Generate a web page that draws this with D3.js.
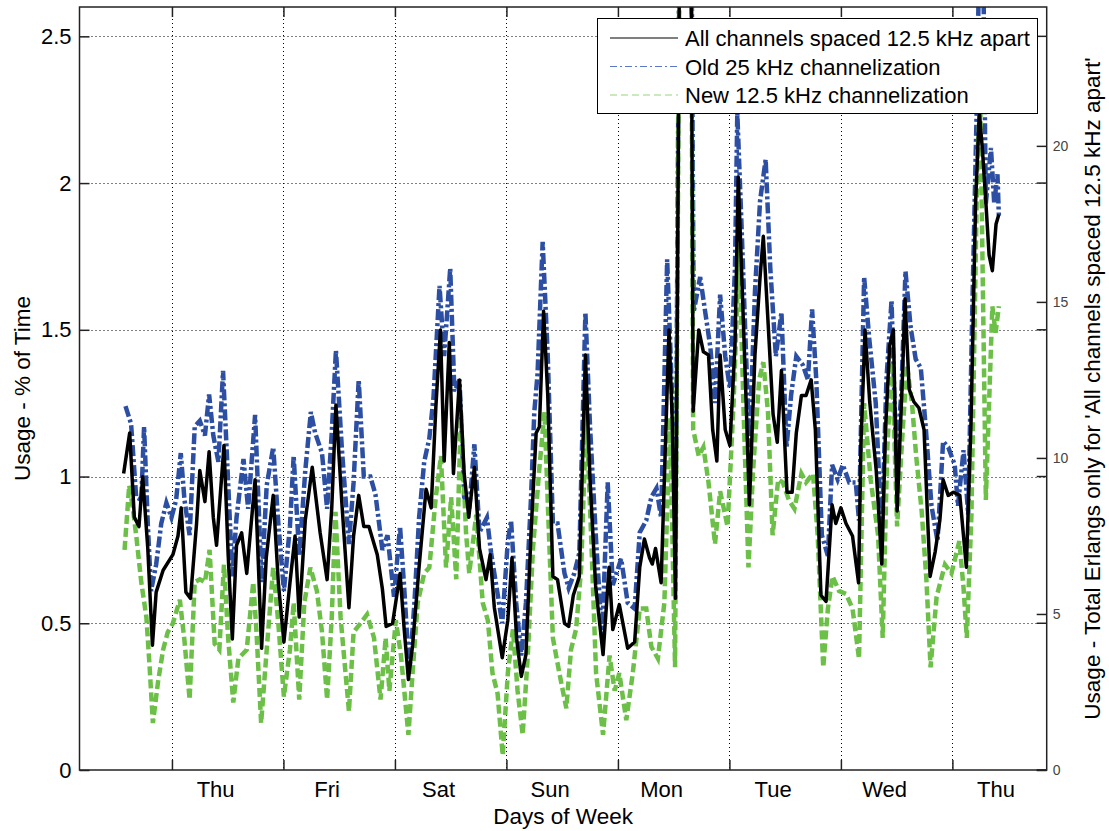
<!DOCTYPE html>
<html>
<head>
<meta charset="utf-8">
<script src="https://cdn.jsdelivr.net/npm/d3@7"></script>
<style>
  body { margin: 0; background: #fff; }
  svg { font-family: "Liberation Sans", Arial, sans-serif; }
</style>
</head>
<body>
<svg id="chart" width="1109" height="831"></svg>
<script>
// hours since Wed 00:00
let dayNames = ["Thu", "Fri", "Sat", "Sun", "Mon", "Tue", "Wed", "Thu"]
let dayTicks = [24, 48, 72, 96, 120, 144, 168, 192]
let leftTicks = [0, 0.5, 1, 1.5, 2, 2.5]
let rightTicks = [0, 5, 10, 15, 20]

// 'All channels spaced 12.5 kHz apart' - total Erlangs (right axis)
let allChannels = [
  [13.6, 9.5], [14.9, 10.8], [15.9, 8.1], [16.9, 7.8], [17.7, 9.4], [18.8, 7.1], [19.8, 4.0], [20.6, 5.7],
  [22.1, 6.4], [24.2, 6.9], [25.3, 7.5], [26.0, 8.4], [27.0, 5.7], [28.0, 5.5], [29.3, 7.9], [30.0, 9.6],
  [31.1, 8.6], [32.0, 10.2], [32.9, 8.1], [33.6, 7.2], [35.2, 10.4], [36.1, 6.9], [37.0, 4.2], [37.9, 7.2],
  [39.0, 7.6], [40.1, 6.3], [41.9, 9.3], [43.3, 3.9], [44.3, 6.8], [45.8, 8.8], [46.9, 6.0], [48.1, 4.1],
  [49.4, 6.0], [50.5, 7.5], [51.4, 4.9], [52.7, 8.0], [54.2, 9.7], [55.9, 7.6], [57.4, 6.1], [58.4, 8.4],
  [59.3, 11.7], [60.6, 8.5], [62.1, 5.2], [63.1, 7.5], [64.2, 8.8], [65.3, 7.8], [66.4, 7.8], [68.2, 6.9],
  [69.3, 5.8], [70.1, 4.6], [71.5, 4.7], [73.1, 6.3], [74.0, 4.5], [74.9, 2.9], [75.8, 4.0], [77.2, 6.5],
  [78.7, 9.0], [79.8, 8.4], [80.8, 11.6], [81.8, 14.1], [82.6, 9.9], [83.7, 13.7], [84.6, 9.5], [85.9, 12.5],
  [86.9, 9.5], [87.9, 8.1], [89.1, 9.7], [90.2, 7.1], [91.6, 6.1], [92.5, 6.9], [93.4, 5.2], [95.1, 3.6],
  [96.3, 4.8], [97.2, 6.8], [98.2, 4.2], [99.2, 3.0], [100.2, 3.7], [101.3, 7.6], [102.4, 10.8], [103.1, 11.0],
  [104.0, 14.7], [104.9, 12.0], [106.0, 6.2], [107.0, 6.1], [108.5, 4.7], [109.4, 4.6], [110.4, 5.6], [111.7, 6.2],
  [113.0, 13.3], [114.0, 9.3], [115.2, 5.9], [116.8, 3.7], [118.1, 6.5], [118.9, 4.5], [120.3, 5.3], [122.1, 3.9],
  [123.6, 4.1], [124.7, 6.5], [125.7, 7.4], [126.8, 6.8], [127.4, 6.6], [128.1, 7.1], [129.3, 6.0], [131.0, 14.1],
  [131.7, 11.2], [132.4, 5.5], [133.5, 32], [134.5, 34], [135.6, 32], [136.2, 11.5], [137.4, 14.1], [138.4, 13.4],
  [139.5, 13.3], [140.4, 10.9], [141.3, 9.9], [142.0, 13.3], [143.1, 10.9], [144.1, 10.4], [145.2, 13.6], [145.9, 19.0],
  [146.6, 16.1], [147.6, 11.8], [148.3, 8.5], [149.5, 13.3], [150.6, 15.8], [151.3, 17.1], [152.3, 14.4], [153.4, 11.4],
  [154.3, 10.5], [155.2, 12.8], [156.4, 8.9], [157.5, 8.9], [158.4, 10.8], [159.5, 12.0], [160.5, 12.0], [161.6, 12.5],
  [162.5, 10.9], [163.7, 5.6], [164.8, 5.4], [166.1, 8.5], [166.9, 7.9], [168.0, 8.4], [169.1, 7.9], [170.5, 7.5],
  [171.8, 6.0], [172.3, 10.4], [173.2, 14.1], [174.2, 11.8], [175.6, 9.6], [176.8, 6.6], [177.6, 10.9], [178.5, 13.6],
  [179.3, 14.1], [180.1, 8.3], [181.2, 12.4], [181.8, 15.1], [182.7, 12.2], [183.7, 11.8], [184.8, 11.6], [185.9, 10.9],
  [186.6, 8.3], [187.2, 6.2], [188.3, 7.0], [189.3, 8.0], [190.0, 9.3], [191.1, 8.8], [192.2, 8.9], [193.6, 8.8],
  [195.0, 6.5], [196.0, 11.1], [197.0, 18.2], [197.8, 21.1], [198.5, 19.8], [199.2, 18.2], [199.9, 16.5], [200.6, 16.0],
  [201.4, 17.5], [202.0, 17.8]
]

// Old 25 kHz channelization - % of time (left axis)
let old25 = [
  [14.0, 1.24], [15.2, 1.18], [16.3, 0.93], [17.4, 0.92], [18.0, 1.17], [18.8, 0.84], [19.5, 0.61], [20.6, 0.70],
  [21.7, 0.84], [22.8, 0.91], [23.9, 0.86], [24.9, 0.92], [25.9, 1.08], [26.7, 0.92], [27.8, 0.80], [28.9, 1.17],
  [30.0, 1.19], [31.1, 1.14], [32.0, 1.28], [32.9, 1.14], [34.0, 1.05], [35.0, 1.36], [36.1, 0.98], [37.0, 0.66],
  [37.9, 0.86], [39.4, 1.06], [40.4, 0.89], [41.9, 1.21], [43.3, 0.64], [44.4, 0.97], [45.8, 1.10], [46.9, 0.84],
  [48.1, 0.61], [49.4, 0.83], [50.2, 1.07], [51.4, 0.73], [52.7, 1.02], [53.9, 1.22], [54.8, 1.15], [56.3, 1.08],
  [57.4, 0.89], [58.4, 1.15], [59.3, 1.43], [60.6, 1.09], [62.1, 0.77], [63.1, 0.98], [64.2, 1.33], [65.3, 1.00],
  [66.7, 1.00], [67.8, 0.94], [69.3, 0.75], [70.4, 0.80], [71.8, 0.59], [73.1, 0.83], [74.0, 0.62], [75.1, 0.33],
  [76.2, 0.57], [77.2, 0.86], [78.3, 1.05], [79.4, 1.13], [80.3, 1.27], [81.6, 1.65], [82.6, 1.41], [83.9, 1.71],
  [84.8, 1.29], [85.9, 1.33], [86.9, 0.93], [88.0, 0.89], [89.1, 1.11], [90.2, 0.81], [91.8, 0.86], [92.7, 0.74],
  [93.8, 0.63], [95.1, 0.50], [96.3, 0.78], [97.0, 0.85], [98.1, 0.57], [99.2, 0.39], [100.2, 0.57], [101.3, 0.93],
  [102.0, 1.22], [102.7, 1.35], [103.8, 1.80], [104.9, 1.41], [106.0, 0.84], [107.0, 0.84], [108.5, 0.67], [109.4, 0.62],
  [110.6, 0.67], [111.7, 0.74], [113.0, 1.56], [114.0, 1.17], [115.2, 0.81], [116.6, 0.45], [117.8, 0.98], [118.9, 0.63],
  [120.7, 0.72], [122.1, 0.57], [123.6, 0.55], [124.7, 0.81], [126.1, 0.85], [127.2, 0.93], [128.3, 0.96], [129.3, 0.86],
  [130.6, 1.74], [131.6, 1.30], [132.4, 0.80], [133.5, 3.5], [134.5, 3.7], [135.6, 3.5], [136.3, 1.56], [137.7, 1.68],
  [138.8, 1.56], [139.9, 1.44], [140.9, 1.25], [142.0, 1.62], [143.1, 1.41], [144.1, 1.30], [145.2, 1.71], [145.7, 2.24],
  [146.6, 1.86], [147.6, 1.41], [148.3, 1.10], [149.5, 1.63], [150.6, 1.94], [151.8, 2.08], [152.8, 1.71], [154.0, 1.41],
  [155.2, 1.56], [156.3, 1.10], [157.3, 1.28], [158.4, 1.41], [159.8, 1.38], [160.9, 1.33], [161.8, 1.57], [162.7, 1.33],
  [163.9, 0.80], [165.2, 0.73], [166.1, 1.04], [167.3, 0.99], [168.4, 1.04], [169.8, 0.98], [171.2, 0.98], [171.9, 0.85],
  [173.0, 1.68], [174.1, 1.47], [175.5, 1.25], [176.8, 0.80], [177.8, 1.33], [178.9, 1.60], [179.9, 1.06], [181.0, 1.28],
  [181.9, 1.70], [183.0, 1.51], [184.1, 1.40], [185.2, 1.37], [186.3, 1.16], [187.5, 0.90], [188.8, 0.78], [190.0, 1.12],
  [191.1, 1.10], [192.5, 1.04], [193.2, 0.90], [194.4, 1.09], [195.4, 0.87], [196.3, 1.58], [197.3, 2.30], [198.0, 3.0],
  [198.6, 2.8], [199.2, 1.93], [200.3, 2.12], [201.0, 1.93], [201.7, 2.03], [202.0, 1.89]
]

// New 12.5 kHz channelization - % of time (left axis)
let new125 = [
  [13.8, 0.75], [14.8, 0.97], [15.6, 0.89], [16.3, 0.80], [17.4, 0.64], [18.5, 0.52], [19.2, 0.35], [19.9, 0.16],
  [21.0, 0.30], [22.1, 0.41], [23.1, 0.47], [24.2, 0.50], [25.7, 0.58], [26.7, 0.44], [27.8, 0.24], [28.9, 0.64],
  [30.0, 0.65], [31.1, 0.64], [32.1, 0.75], [33.2, 0.43], [34.2, 0.41], [35.2, 0.70], [36.1, 0.45], [37.2, 0.23],
  [38.3, 0.38], [40.1, 0.41], [41.5, 0.64], [42.2, 0.47], [43.2, 0.16], [44.4, 0.41], [45.8, 0.69], [46.9, 0.50],
  [48.1, 0.25], [49.4, 0.41], [50.2, 0.57], [51.4, 0.24], [52.5, 0.57], [53.8, 0.69], [55.2, 0.61], [56.3, 0.47],
  [57.4, 0.24], [58.4, 0.52], [59.2, 0.88], [60.3, 0.52], [62.1, 0.20], [63.1, 0.47], [64.6, 0.50], [66.0, 0.53],
  [67.5, 0.45], [68.9, 0.24], [70.0, 0.45], [70.8, 0.27], [72.2, 0.51], [73.3, 0.39], [74.9, 0.12], [75.8, 0.33],
  [76.9, 0.57], [78.3, 0.67], [79.4, 0.69], [80.8, 0.93], [81.9, 1.07], [83.0, 0.69], [84.1, 0.93], [85.2, 0.65],
  [86.2, 1.22], [87.3, 0.81], [88.0, 0.67], [89.5, 0.87], [90.9, 0.57], [92.0, 0.51], [93.0, 0.33], [94.1, 0.26],
  [95.2, 0.05], [96.3, 0.33], [97.4, 0.48], [98.4, 0.27], [99.5, 0.12], [100.6, 0.39], [101.7, 0.75], [103.1, 1.03],
  [104.2, 1.22], [104.9, 0.91], [106.0, 0.45], [107.4, 0.33], [108.9, 0.21], [109.9, 0.41], [111.0, 0.48], [112.1, 0.69],
  [113.2, 1.22], [114.2, 0.81], [115.3, 0.33], [116.8, 0.12], [118.2, 0.39], [119.3, 0.27], [120.3, 0.33], [121.8, 0.17],
  [123.2, 0.33], [124.7, 0.55], [126.1, 0.55], [127.2, 0.42], [128.6, 0.38], [130.0, 0.57], [131.2, 1.20], [132.3, 0.35],
  [133.5, 3.4], [134.5, 3.6], [135.6, 3.4], [136.2, 1.16], [137.4, 1.07], [138.4, 1.10], [139.5, 0.98], [140.9, 0.77],
  [142.0, 0.95], [143.6, 0.83], [144.9, 1.25], [146.1, 1.79], [147.0, 1.25], [148.1, 0.69], [149.1, 1.02], [150.4, 1.33],
  [151.3, 1.39], [152.3, 1.22], [153.3, 0.80], [154.5, 0.99], [155.5, 0.98], [156.8, 0.92], [158.0, 0.89], [159.5, 1.01],
  [160.5, 0.98], [162.0, 1.01], [163.0, 0.80], [164.2, 0.35], [165.2, 0.55], [166.2, 0.66], [167.6, 0.61], [169.1, 0.60],
  [170.5, 0.55], [171.9, 0.38], [173.0, 1.25], [174.4, 0.99], [176.0, 0.80], [177.0, 0.45], [178.0, 1.10], [179.0, 1.39],
  [180.1, 0.83], [181.2, 1.13], [182.2, 1.38], [183.3, 1.25], [184.2, 1.07], [185.4, 0.88], [186.4, 0.65], [187.3, 0.35],
  [188.6, 0.59], [190.4, 0.70], [191.8, 0.67], [193.5, 0.78], [194.4, 0.62], [195.1, 0.45], [196.1, 0.87], [197.4, 2.10],
  [198.0, 2.28], [198.6, 1.60], [199.2, 0.92], [200.6, 1.58], [201.3, 1.49], [202.0, 1.58]
]

let seriesNames = ["All channels spaced 12.5 kHz apart", "Old 25 kHz channelization", "New 12.5 kHz channelization"]

let BLUE = "#2c4fa3"
let GREEN = "#6cbf47"

function drawChart(){
    let svg = d3.select("#chart")

    let left = 79.5, right = 1046.7, top = 7, bottom = 770

    let x = d3.scaleLinear().domain([4.1, 212.3]).range([left, right])
    let yL = d3.scaleLinear().domain([0, 2.6]).range([bottom, top])
    let yR = d3.scaleLinear().domain([0, 24.45]).range([bottom, top])

    svg.append("defs").append("clipPath").attr("id", "plot-clip")
        .append("rect")
        .attr("x", left).attr("y", top)
        .attr("width", right - left).attr("height", bottom - top)

    // dotted grid
    let grid = svg.append("g").attr("class", "grid")
        .attr("stroke", "#000").attr("stroke-width", 1).attr("stroke-dasharray", "1,3")
    grid.selectAll(".gx").data(dayTicks).enter().append("line")
        .attr("x1", d => Math.round(x(d)) + 0.5).attr("x2", d => Math.round(x(d)) + 0.5)
        .attr("y1", top).attr("y2", bottom)
    grid.selectAll(".gy").data(leftTicks.filter(d => d > 0)).enter().append("line")
        .attr("x1", left).attr("x2", right)
        .attr("y1", d => Math.round(yL(d)) + 0.5).attr("y2", d => Math.round(yL(d)) + 0.5)

    // lines: left axis series first, right axis series on top
    let plot = svg.append("g").attr("clip-path", "url(#plot-clip)")

    let lineL = d3.line().x(d => x(d[0])).y(d => yL(d[1]))
    let lineR = d3.line().x(d => x(d[0])).y(d => yR(d[1]))

    plot.append("path").datum(old25)
        .attr("d", lineL)
        .attr("fill", "none")
        .attr("stroke", BLUE)
        .attr("stroke-width", 4.5)
        .attr("stroke-dasharray", "11,3,3,3")

    plot.append("path").datum(new125)
        .attr("d", lineL)
        .attr("fill", "none")
        .attr("stroke", GREEN)
        .attr("stroke-width", 4.5)
        .attr("stroke-dasharray", "9,4")

    plot.append("path").datum(allChannels)
        .attr("d", lineR)
        .attr("fill", "none")
        .attr("stroke", "#000")
        .attr("stroke-width", 3.5)
        .attr("stroke-linejoin", "round")

    // box and axes
    let axisColor = "#222"
    svg.append("rect")
        .attr("x", left).attr("y", top)
        .attr("width", right - left).attr("height", bottom - top)
        .attr("fill", "none").attr("stroke", axisColor).attr("stroke-width", 1.5)

    let leftAxis = d3.axisLeft(yL).tickValues(leftTicks).tickSize(-10).tickPadding(8)
        .tickFormat(d => d === 0 ? "0" : String(d))
    let gl = svg.append("g").attr("transform", `translate(${left},0)`).call(leftAxis)
    gl.select(".domain").remove()
    gl.selectAll("line").attr("stroke", axisColor).attr("stroke-width", 1.5)
    gl.selectAll("text").attr("font-size", 22).attr("fill", "#000")
        .attr("font-family", "Liberation Sans, Arial, sans-serif")

    // mirrored left ticks on the right edge
    svg.append("g").selectAll("line").data(leftTicks).enter().append("line")
        .attr("x1", right - 10).attr("x2", right)
        .attr("y1", d => yL(d)).attr("y2", d => yL(d))
        .attr("stroke", axisColor).attr("stroke-width", 1.5)

    let bottomAxis = d3.axisBottom(x).tickValues(dayTicks).tickSize(-10).tickFormat("")
    let gb = svg.append("g").attr("transform", `translate(0,${bottom})`).call(bottomAxis)
    gb.select(".domain").remove()
    gb.selectAll("line").attr("stroke", axisColor).attr("stroke-width", 1.5)

    let topAxis = d3.axisTop(x).tickValues(dayTicks).tickSize(-10).tickFormat("")
    let gt = svg.append("g").attr("transform", `translate(0,${top})`).call(topAxis)
    gt.select(".domain").remove()
    gt.selectAll("line").attr("stroke", axisColor).attr("stroke-width", 1.5)

    svg.append("g").selectAll("text").data(dayNames).enter().append("text")
        .attr("x", (d, i) => x(dayTicks[i] + 9.4))
        .attr("y", 797)
        .attr("text-anchor", "middle")
        .attr("font-size", 22)
        .text(d => d)

    let rightAxis = d3.axisRight(yR).tickValues(rightTicks).tickSize(-10).tickPadding(6)
    let gr = svg.append("g").attr("transform", `translate(${right},0)`).call(rightAxis)
    gr.select(".domain").remove()
    gr.selectAll("line").attr("stroke", axisColor).attr("stroke-width", 1.5)
    gr.selectAll("text").attr("font-size", 14).attr("fill", "#444")
        .attr("font-family", "Liberation Sans, Arial, sans-serif")

    // axis titles
    svg.append("text")
        .attr("x", (left + right) / 2).attr("y", 824)
        .attr("text-anchor", "middle").attr("font-size", 22.5)
        .text("Days of Week")

    svg.append("text")
        .attr("transform", `translate(30,${(top + bottom) / 2}) rotate(-90)`)
        .attr("text-anchor", "middle").attr("font-size", 22.5)
        .text("Usage - % of Time")

    svg.append("text")
        .attr("transform", `translate(1100,${(top + bottom) / 2}) rotate(-90)`)
        .attr("text-anchor", "middle").attr("font-size", 22.5)
        .text("Usage - Total Erlangs only for 'All channels spaced 12.5 kHz apart'")

    // legend
    let legend = svg.append("g")
    legend.append("rect")
        .attr("x", 597.5).attr("y", 18.5).attr("width", 440).attr("height", 95)
        .attr("fill", "#fff").attr("stroke", "#000").attr("stroke-width", 1)

    let legendStyles = [
        {color: "#000", dash: null},
        {color: "#5a78c4", dash: "7,3,2,3"},
        {color: "#95d47a", dash: "7,4"}
    ]
    let rows = legend.selectAll(".row").data(seriesNames).enter().append("g")
        .attr("transform", (d, i) => `translate(0,${38 + i * 28.5})`)
    rows.append("line")
        .attr("x1", 610).attr("x2", 678)
        .attr("stroke", (d, i) => legendStyles[i].color)
        .attr("stroke-width", 1.2)
        .attr("stroke-dasharray", (d, i) => legendStyles[i].dash)
    rows.append("text")
        .attr("x", 685).attr("y", 8)
        .attr("font-size", 22)
        .text(d => d)
}

drawChart()
</script>
</body>
</html>
